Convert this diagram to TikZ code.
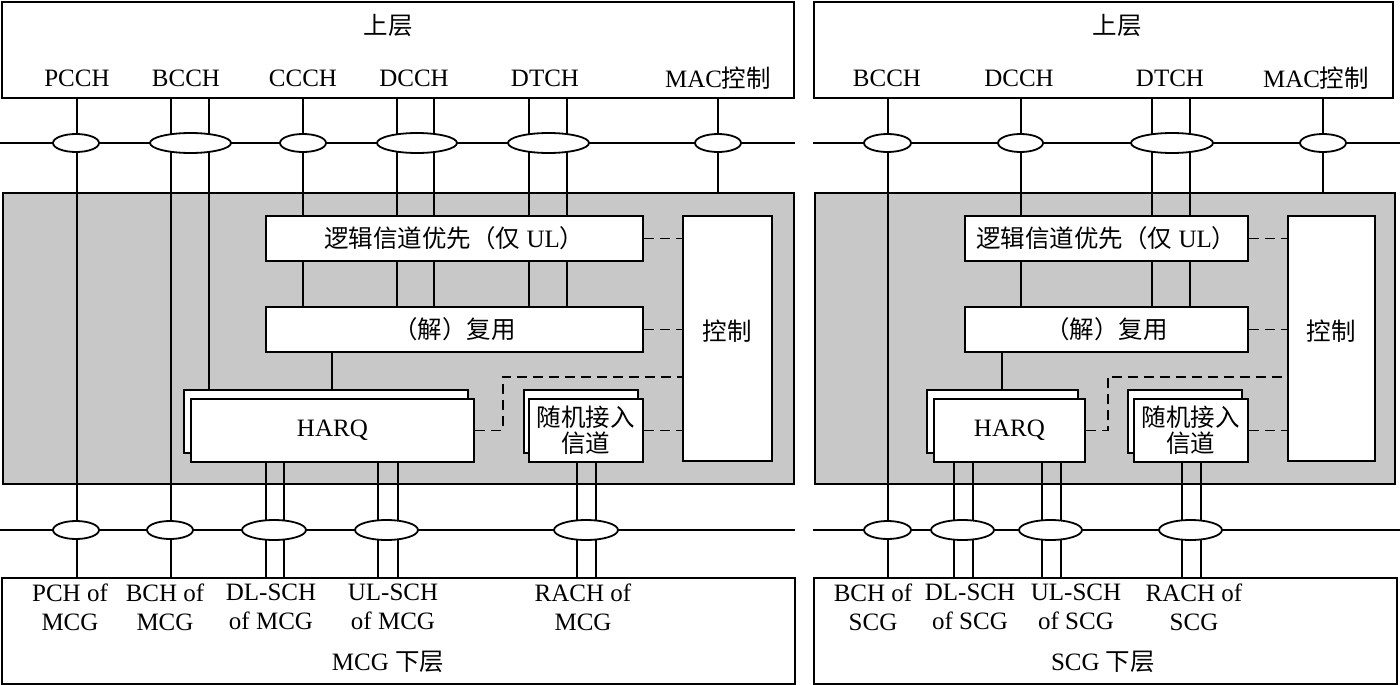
\documentclass[tikz,border=0pt]{standalone}
\usepackage{fontspec}
\setmainfont{Liberation Serif}
\newfontfamily\cjk[Scale=0.98]{Noto Sans CJK SC}
\newcommand\zh[1]{{\cjk #1}}
\usetikzlibrary{shapes.geometric,calc}
\definecolor{bg}{RGB}{200,200,200}
\newcommand\chan[5]{\draw[ln] (#2.#3 -| #1,0) -- (#4.#5 -| #1,0);}
\begin{document}
\begin{tikzpicture}[x=1pt,y=-1pt,
  ln/.style={line width=1.8pt},
  box/.style={draw, line width=1.8pt, fill=white, inner sep=0pt, anchor=north west},
  ell/.style={ellipse, draw, line width=1.8pt, fill=white, inner sep=0pt},
  dsh/.style={line width=1.8pt, dash pattern=on 10pt off 6pt},
  txt/.style={inner sep=0pt, align=center, font=\fontsize{25}{29}\selectfont},
  txtb/.style={inner sep=0pt, align=center, font=\fontsize{25}{26}\selectfont}]
\useasboundingbox (0,0) rectangle (1400,685);

% ================= LEFT PANEL (MCG) =================
\node[box,minimum width=792pt,minimum height=96pt] (upL) at (1,1) {};
\node[box,fill=bg,minimum width=791pt,minimum height=291pt] (gL) at (2,192) {};
\node[box,minimum width=793pt,minimum height=106pt] (lowL) at (1,577) {};

\coordinate (hLua) at (0,143); \coordinate (hLub) at (795,143);
\coordinate (hLda) at (0,530); \coordinate (hLdb) at (795,530);
\draw[ln] (hLua) -- (hLub);
\draw[ln] (hLda) -- (hLdb);

\node[box,minimum width=377pt,minimum height=45pt] (lcpL) at (265,215) {};
\node[box,minimum width=377pt,minimum height=45pt] (muxL) at (265,306) {};
\node[box,minimum width=89pt,minimum height=245pt] (ctlL) at (682,215) {};
\node[box,minimum width=284pt,minimum height=63pt] (hbL) at (183,389) {};
\node[box,minimum width=283pt,minimum height=63pt] (hL) at (190,398) {};
\node[box,minimum width=114pt,minimum height=63pt] (rbL) at (523,389) {};
\node[box,minimum width=114pt,minimum height=63pt] (rL) at (528,398) {};

\chan{77}{upL}{south}{lowL}{north}
\chan{171}{upL}{south}{lowL}{north}
\chan{209}{upL}{south}{hbL}{north}
\foreach \x in {303,397,434,529,567}{
  \chan{\x}{upL}{south}{lcpL}{north}
  \chan{\x}{lcpL}{south}{muxL}{north}}
\chan{718}{upL}{south}{gL}{north}
\chan{332}{muxL}{south}{hbL}{north}
\foreach \x in {266,284,378,398}{\chan{\x}{hL}{south}{lowL}{north}}
\foreach \x in {577,596}{\chan{\x}{rL}{south}{lowL}{north}}

\node[ell,minimum width=46pt,minimum height=18pt] (eLu1) at (76,143) {};
\node[ell,minimum width=81pt,minimum height=20pt] (eLu2) at (190.5,143) {};
\node[ell,minimum width=46pt,minimum height=18pt] (eLu3) at (303,143) {};
\node[ell,minimum width=80pt,minimum height=20pt] (eLu4) at (417,143) {};
\node[ell,minimum width=81pt,minimum height=20pt] (eLu5) at (548.5,143) {};
\node[ell,minimum width=46pt,minimum height=18pt] (eLu6) at (718,143) {};
\node[ell,minimum width=46pt,minimum height=18pt] (eLd1) at (76,530) {};
\node[ell,minimum width=46pt,minimum height=18pt] (eLd2) at (170,530) {};
\node[ell,minimum width=64pt,minimum height=20pt] (eLd3) at (274,530) {};
\node[ell,minimum width=63pt,minimum height=20pt] (eLd4) at (386.5,530) {};
\node[ell,minimum width=64pt,minimum height=20pt] (eLd5) at (586,530) {};

\draw[dsh] (lcpL.east) -- (ctlL.west |- lcpL.east);
\draw[dsh] (muxL.east) -- (ctlL.west |- muxL.east);
\draw[dsh] (hL.east) -- ++(28,0) |- (ctlL.west |- 0,377);
\draw[dsh] (rL.east) -- (ctlL.west |- rL.east);

\node[txt] (tUpL) at (388,25) {\zh{上层}};
\node[txt] (tL1) at (77,78) {PCCH};
\node[txt] (tL2) at (186,78) {BCCH};
\node[txt] (tL3) at (303,78) {CCCH};
\node[txt] (tL4) at (414,78) {DCCH};
\node[txt] (tL5) at (545,78) {DTCH};
\node[txt] (tL6) at (718,78) {MAC\zh{控制}};
\node[txt] at (lcpL.center) {\zh{逻辑信道优先（仅} UL\zh{）}};
\node[txt] at (muxL.center) {\zh{（解）复用}};
\node[txt] at ($(ctlL.north)!0.47!(ctlL.south)$) {\zh{控制}};
\node[txt] at (hL.center) {HARQ};
\node[txtb] at (rL.center) {\zh{随机接入}\\\zh{信道}};
\node[txt] (bL1) at (70,607) {PCH of\\MCG};
\node[txt] (bL2) at (165,607) {BCH of\\MCG};
\node[txt] (bL3) at (271,607) {DL-SCH\\of MCG};
\node[txt] (bL4) at (393,607) {UL-SCH\\of MCG};
\node[txt] (bL5) at (583,607) {RACH of\\MCG};
\node[txt] (bL6) at (388,662) {MCG \zh{下层}};

% ================= RIGHT PANEL (SCG) =================
\node[box,minimum width=579pt,minimum height=96pt] (upR) at (813,1) {};
\node[box,fill=bg,minimum width=580pt,minimum height=291pt] (gR) at (814,192) {};
\node[box,minimum width=583pt,minimum height=106pt] (lowR) at (813,577) {};

\coordinate (hRua) at (813,143); \coordinate (hRub) at (1400,143);
\coordinate (hRda) at (813,530); \coordinate (hRdb) at (1400,530);
\draw[ln] (hRua) -- (hRub);
\draw[ln] (hRda) -- (hRdb);

\node[box,minimum width=283pt,minimum height=45pt] (lcpR) at (964,215) {};
\node[box,minimum width=283pt,minimum height=45pt] (muxR) at (964,306) {};
\node[box,minimum width=87pt,minimum height=245pt] (ctlR) at (1287,215) {};
\node[box,minimum width=151pt,minimum height=63pt] (hbR) at (926,389) {};
\node[box,minimum width=151pt,minimum height=63pt] (hR) at (933,398) {};
\node[box,minimum width=114pt,minimum height=63pt] (rbR) at (1127,389) {};
\node[box,minimum width=114pt,minimum height=63pt] (rR) at (1133,398) {};

\chan{888}{upR}{south}{lowR}{north}
\foreach \x in {1021,1152,1190}{
  \chan{\x}{upR}{south}{lcpR}{north}
  \chan{\x}{lcpR}{south}{muxR}{north}}
\chan{1323}{upR}{south}{gR}{north}
\chan{1002}{muxR}{south}{hbR}{north}
\foreach \x in {954,973,1042,1061}{\chan{\x}{hR}{south}{lowR}{north}}
\foreach \x in {1182,1201}{\chan{\x}{rR}{south}{lowR}{north}}

\node[ell,minimum width=47pt,minimum height=18pt] (eRu1) at (887.5,143) {};
\node[ell,minimum width=45pt,minimum height=18pt] (eRu2) at (1020.5,143) {};
\node[ell,minimum width=82pt,minimum height=20pt] (eRu3) at (1172,143) {};
\node[ell,minimum width=46pt,minimum height=18pt] (eRu4) at (1323,143) {};
\node[ell,minimum width=47pt,minimum height=18pt] (eRd1) at (887.5,530) {};
\node[ell,minimum width=63pt,minimum height=20pt] (eRd2) at (962.5,530) {};
\node[ell,minimum width=63pt,minimum height=20pt] (eRd3) at (1050.5,530) {};
\node[ell,minimum width=63pt,minimum height=20pt] (eRd4) at (1190.5,530) {};

\draw[dsh] (lcpR.east) -- (ctlR.west |- lcpR.east);
\draw[dsh] (muxR.east) -- (ctlR.west |- muxR.east);
\draw[dsh] (hR.east) -- ++(22,0) |- (ctlR.west |- 0,377);
\draw[dsh] (rR.east) -- (ctlR.west |- rR.east);

\node[txt] (tUpR) at (1117,25) {\zh{上层}};
\node[txt] (tR1) at (887,78) {BCCH};
\node[txt] (tR2) at (1019,78) {DCCH};
\node[txt] (tR3) at (1170,78) {DTCH};
\node[txt] (tR4) at (1316,78) {MAC\zh{控制}};
\node[txt] at (lcpR.center) {\zh{逻辑信道优先（仅} UL\zh{）}};
\node[txt] at (muxR.center) {\zh{（解）复用}};
\node[txt] at ($(ctlR.north)!0.47!(ctlR.south)$) {\zh{控制}};
\node[txt] at (hR.center) {HARQ};
\node[txtb] at (rR.center) {\zh{随机接入}\\\zh{信道}};
\node[txt] (bR1) at (873,607) {BCH of\\SCG};
\node[txt] (bR2) at (970,607) {DL-SCH\\of SCG};
\node[txt] (bR3) at (1076,607) {UL-SCH\\of SCG};
\node[txt] (bR4) at (1194,607) {RACH of\\SCG};
\node[txt] (bR5) at (1103,662) {SCG \zh{下层}};
\end{tikzpicture}
\end{document}
